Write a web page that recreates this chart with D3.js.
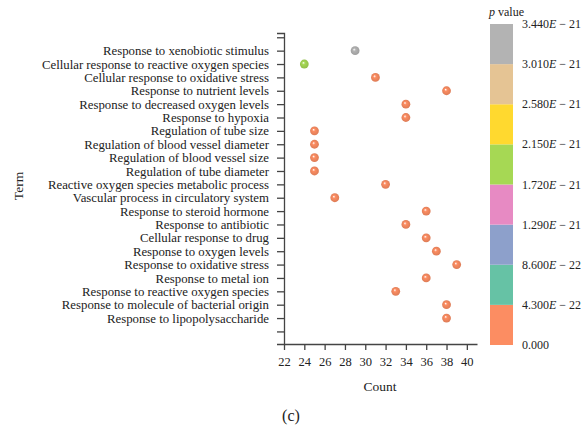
<!DOCTYPE html>
<html>
<head>
<meta charset="utf-8">
<script src="https://cdn.jsdelivr.net/npm/d3@7"></script>
<style>
  body { margin: 0; background: #fff; }
  text { font-family: "Liberation Serif", "DejaVu Serif", serif; fill: #222; }
</style>
</head>
<body>
<script>
// data
var terms = ["Response to xenobiotic stimulus",
  "Cellular response to reactive oxygen species",
  "Cellular response to oxidative stress",
  "Response to nutrient levels",
  "Response to decreased oxygen levels",
  "Response to hypoxia",
  "Regulation of tube size",
  "Regulation of blood vessel diameter",
  "Regulation of blood vessel size",
  "Regulation of tube diameter",
  "Reactive oxygen species metabolic process",
  "Vascular process in circulatory system",
  "Response to steroid hormone",
  "Response to antibiotic",
  "Cellular response to drug",
  "Response to oxygen levels",
  "Response to oxidative stress",
  "Response to metal ion",
  "Response to reactive oxygen species",
  "Response to molecule of bacterial origin",
  "Response to lipopolysaccharide"];
var counts = [29, 24, 31, 38, 34, 34, 25, 25, 25, 25, 32, 27, 36, 34, 36, 37, 39, 36, 33, 38, 38];
var pValues = [3.44e-21, 1.95e-21, 2.1e-22, 1.6e-22, 1.2e-22, 9.0e-23, 3.1e-22, 3.1e-22, 3.1e-22, 3.1e-22,
  1.1e-22, 2.6e-22, 4.0e-23, 3.0e-23, 2.0e-23, 1.5e-23, 6.0e-24, 4.0e-24, 2.0e-24, 1.0e-24, 5.0e-25];
var xTicks = [22, 24, 26, 28, 30, 32, 34, 36, 38, 40];
var legendLabels = [["0.000", ""], ["4.300", "22"], ["8.600", "22"], ["1.290", "21"], ["1.720", "21"],
  ["2.150", "21"], ["2.580", "21"], ["3.010", "21"], ["3.440", "21"]];
var legendColors = ["#fc8d62", "#66c2a5", "#8da0cb", "#e78ac3", "#a6d854", "#ffd92f", "#e5c494", "#b3b3b3"];

var svg = d3.select("body").append("svg")
  .attr("width", 584).attr("height", 432);

// scales
var x = d3.scaleLinear().domain([22, 41]).range([284, 477]);
var y = d3.scaleLinear().domain([-0.32, 22.94]).range([33, 344]);
var color = d3.scaleQuantize().domain([0, 3.44e-21]).range(legendColors);

// x axis
var xAxis = svg.append("g")
  .attr("transform", "translate(0,344)")
  .call(d3.axisBottom(x).tickValues(xTicks).tickSize(6).tickSizeOuter(0).tickPadding(7));
xAxis.selectAll("text").style("font-size", "12.5px").attr("fill", "#222");

// y axis: tick 0 and 22 are empty slots
var yAxis = svg.append("g")
  .attr("transform", "translate(284,0)")
  .call(d3.axisLeft(y).tickValues(d3.range(0, 23))
    .tickFormat(function(d){ return terms[d - 1] || ""; })
    .tickSize(7).tickSizeOuter(7).tickPadding(8));
yAxis.selectAll("text").style("font-size", "12.8px").attr("fill", "#222");

svg.selectAll(".domain, .tick line").attr("stroke", "#444").attr("stroke-width", 1.3);

// gradients for the shiny dots
var defs = svg.append("defs");
legendColors.forEach(function(c, i){
  var g = defs.append("radialGradient").attr("id", "dot" + i)
    .attr("cx", "50%").attr("cy", "50%").attr("r", "55%")
    .attr("fx", "38%").attr("fy", "35%");
  g.append("stop").attr("offset", "0%").attr("stop-color", "#ffffff").attr("stop-opacity", 0.95);
  g.append("stop").attr("offset", "30%").attr("stop-color", c);
  g.append("stop").attr("offset", "100%").attr("stop-color", d3.color(c).darker(0.4));
});

svg.selectAll("circle.pt")
  .data(terms)
  .enter().append("circle")
    .attr("class", "pt")
    .attr("cx", function(d, i){ return x(counts[i]); })
    .attr("cy", function(d, i){ return y(i + 1); })
    .attr("r", 4.4)
    .attr("fill", function(d, i){ return "url(#dot" + legendColors.indexOf(color(pValues[i])) + ")"; });

// axis titles
svg.append("text").attr("x", 380).attr("y", 391)
  .attr("text-anchor", "middle").style("font-size", "13.5px").text("Count");
svg.append("text").attr("transform", "translate(23,186) rotate(-90)")
  .attr("text-anchor", "middle").style("font-size", "13.5px").text("Term");
svg.append("text").attr("x", 291).attr("y", 421)
  .attr("text-anchor", "middle").style("font-size", "16px").text("(c)");

// legend
var ly = d3.scaleLinear().domain([0, 8]).range([345, 24]);
svg.selectAll("rect.leg")
  .data(legendColors)
  .enter().append("rect")
    .attr("class", "leg")
    .attr("x", 490).attr("width", 23)
    .attr("y", function(d, i){ return ly(i + 1); })
    .attr("height", function(d, i){ return ly(i) - ly(i + 1); })
    .attr("fill", function(d){ return d; });

var lt = svg.selectAll("text.leg")
  .data(legendLabels)
  .enter().append("text")
    .attr("class", "leg")
    .attr("x", 522)
    .attr("y", function(d, i){ return ly(i) + 4; })
    .style("font-size", "12px");
lt.append("tspan").text(function(d){ return d[0]; });
lt.filter(function(d){ return d[1] !== ""; }).each(function(d){
  var t = d3.select(this);
  t.append("tspan").style("font-style", "italic").text("E");
  t.append("tspan").text(" \u2212 " + d[1]);
});

var title = svg.append("text").attr("x", 489).attr("y", 16).style("font-size", "12px");
title.append("tspan").style("font-style", "italic").text("p");
title.append("tspan").text(" value");
</script>
</body>
</html>
